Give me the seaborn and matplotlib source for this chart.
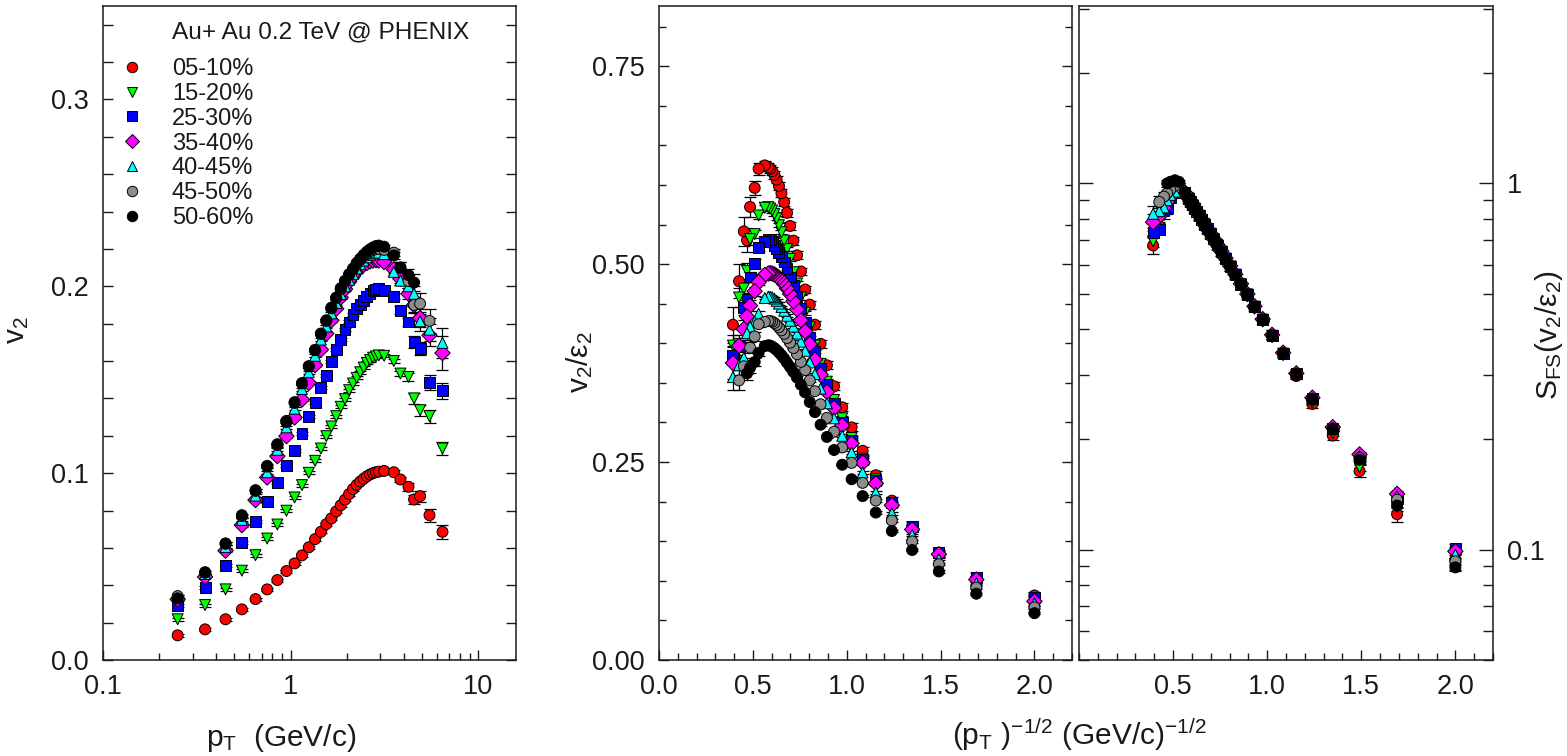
import numpy as np
import pandas as pd
import matplotlib
matplotlib.use("Agg")
import matplotlib.pyplot as plt
import seaborn as sns
from matplotlib.lines import Line2D
from matplotlib.ticker import MultipleLocator, LogLocator, FixedLocator, FuncFormatter, NullFormatter

sns.set_style("ticks")
plt.rcParams['font.family'] = ['Liberation Sans', 'DejaVu Sans']
plt.rcParams['mathtext.fontset'] = 'custom'
plt.rcParams['mathtext.rm'] = 'Liberation Sans'
plt.rcParams['mathtext.it'] = 'Liberation Sans'
plt.rcParams['mathtext.default'] = 'regular'

# ---------------- data ----------------
centralities = ['05-10%', '15-20%', '25-30%', '35-40%', '40-45%', '45-50%', '50-60%']
colors = ['#ff0000', '#00ff00', '#0000ff', '#ff00ff', '#00ffff', '#8c8c8c', '#000000']
markers = ['o', 'v', 's', 'D', '^', 'o', 'o']

pt = [0.25, 0.35, 0.45, 0.55, 0.65, 0.75, 0.85, 0.95, 1.05, 1.15, 1.25, 1.35, 1.45, 1.55,
      1.65, 1.75, 1.85, 1.95, 2.05, 2.15, 2.25, 2.35, 2.45, 2.55, 2.65, 2.75, 2.85, 2.95,
      3.15, 3.55, 3.85, 4.25, 4.55, 4.9, 5.5, 6.45]
nan = float('nan')

v2_0510 = [0.0132, 0.0164, 0.0218, 0.0271, 0.0326, 0.0378, 0.0428, 0.0476, 0.0517, 0.0560,
           0.0603, 0.0647, 0.0686, 0.0727, 0.0758, 0.0795, 0.0828, 0.0858, 0.0888, 0.0915,
           0.0937, 0.0955, 0.0970, 0.0983, 0.0993, 0.1000, 0.1005, 0.1008,
           0.1012, 0.1005, 0.0966, 0.0927, 0.0859, 0.0877, 0.0775, 0.0686]
v2_1520 = [0.0218, 0.0294, 0.0378, 0.0478, 0.0561, 0.0650, 0.0725, 0.0799, 0.0870, 0.0936,
           0.1002, 0.1066, 0.1132, 0.1198, 0.1250, 0.1305, 0.1355, 0.1396, 0.1444, 0.1480,
           0.1510, 0.1540, 0.1565, 0.1590, 0.1605, 0.1618, 0.1625, 0.1630,
           0.1628, 0.1600, 0.1533, 0.1515, 0.1400, 0.1337, 0.1305, 0.1132]
v2_2530 = [0.0294, 0.0389, 0.0508, 0.0630, 0.0743, 0.0847, 0.0948, 0.1039, 0.1123, 0.1212,
           0.1301, 0.1378, 0.1458, 0.1524, 0.1595, 0.1661, 0.1715, 0.1768, 0.1809, 0.1850,
           0.1880, 0.1905, 0.1925, 0.1945, 0.1960, 0.1975, 0.1985, 0.1988,
           0.1975, 0.1947, 0.1872, 0.1809, 0.1702, 0.1667, 0.1483, 0.1440]
v2_3540 = [0.0325, 0.0445, 0.0585, 0.0722, 0.0856, 0.0977, 0.1091, 0.1198, 0.1298, 0.1394,
           0.1483, 0.1578, 0.1661, 0.1747, 0.1818, 0.1880, 0.1940, 0.1985, 0.2025, 0.2055,
           0.2080, 0.2100, 0.2115, 0.2125, 0.2133, 0.2138, 0.2140, 0.2138,
           0.2130, 0.2090, 0.2040, 0.1960, 0.1900, 0.1830, 0.1738, 0.1643]
v2_4045 = [0.0340, 0.0460, 0.0605, 0.0750, 0.0880, 0.1005, 0.1125, 0.1245, 0.1345, 0.1450,
           0.1540, 0.1628, 0.1715, 0.1785, 0.1855, 0.1910, 0.1958, 0.2000, 0.2035, 0.2065,
           0.2095, 0.2118, 0.2138, 0.2155, 0.2168, 0.2176, 0.2180, 0.2180,
           0.2172, 0.2077, 0.2030, 0.2000, 0.1960, 0.1813, 0.1768, 0.1697]
v2_4550 = [0.0342, 0.0470, 0.0622, 0.0770, 0.0905, 0.1035, 0.1150, 0.1280, 0.1380, 0.1482,
           0.1572, 0.1660, 0.1745, 0.1815, 0.1882, 0.1935, 0.1985, 0.2025, 0.2060, 0.2090,
           0.2118, 0.2140, 0.2160, 0.2175, 0.2188, 0.2196, 0.2200, 0.2200,
           0.2195, 0.2180, 0.2100, 0.2028, 0.1900, 0.1907, 0.1815, nan]
v2_5060 = [0.0330, 0.0467, 0.0624, 0.0775, 0.0909, 0.1039, 0.1155, 0.1274, 0.1376, 0.1480,
           0.1572, 0.1658, 0.1747, 0.1818, 0.1886, 0.1940, 0.1990, 0.2030, 0.2065, 0.2095,
           0.2125, 0.2148, 0.2168, 0.2185, 0.2198, 0.2208, 0.2215, 0.2218,
           0.2212, 0.2165, 0.2100, 0.2060, 0.2020, nan, nan, nan]

# eccentricity per centrality (middle panel = v2 / eps2)
eps2 = [0.162, 0.285, 0.374, 0.438, 0.475, 0.514, 0.558]

# scaled values S_FS(v2/eps2) (right panel)
sfs_0510 = [0.094, 0.125, 0.164, 0.205, 0.250, 0.298, 0.342, 0.383, 0.424, 0.460, 0.497, 0.530,
            0.563, 0.593, 0.623, 0.651, 0.678, 0.704, 0.728, 0.750, 0.773, 0.795, 0.816, 0.835,
            0.854, 0.872, 0.890, 0.908, 0.940, 0.990, 0.954, 0.915, 0.848, 0.866, 0.765, 0.677]
sfs_1520 = [0.096, 0.131, 0.168, 0.208, 0.252, 0.300, 0.343, 0.384, 0.425, 0.461, 0.498, 0.531,
            0.564, 0.594, 0.624, 0.652, 0.679, 0.705, 0.729, 0.751, 0.774, 0.796, 0.817, 0.836,
            0.855, 0.873, 0.891, 0.910, 0.942, 0.980, 0.940, 0.930, 0.860, 0.820, 0.800, 0.695]
sfs_2530 = [0.101, 0.138, 0.178, 0.214, 0.258, 0.302, 0.344, 0.385, 0.425, 0.461, 0.498, 0.531,
            0.564, 0.594, 0.624, 0.652, 0.679, 0.705, 0.729, 0.751, 0.774, 0.796, 0.817, 0.836,
            0.855, 0.873, 0.891, 0.910, 0.942, 0.982, 0.944, 0.913, 0.859, 0.841, 0.749, 0.736]
sfs_3540 = [0.099, 0.142, 0.182, 0.216, 0.260, 0.303, 0.345, 0.386, 0.426, 0.462, 0.499, 0.532,
            0.565, 0.595, 0.625, 0.653, 0.680, 0.706, 0.730, 0.752, 0.775, 0.797, 0.818, 0.837,
            0.856, 0.874, 0.892, 0.911, 0.943, 0.978, 0.955, 0.917, 0.890, 0.857, 0.813, 0.784]
sfs_4045 = [0.097, 0.140, 0.180, 0.215, 0.259, 0.303, 0.345, 0.386, 0.426, 0.462, 0.499, 0.532,
            0.565, 0.595, 0.625, 0.653, 0.680, 0.706, 0.730, 0.752, 0.775, 0.797, 0.818, 0.837,
            0.856, 0.874, 0.892, 0.911, 0.943, 0.975, 0.950, 0.930, 0.900, 0.860, 0.840, 0.826]
sfs_4550 = [0.093, 0.137, 0.178, 0.214, 0.258, 0.302, 0.344, 0.385, 0.425, 0.461, 0.498, 0.531,
            0.564, 0.594, 0.624, 0.652, 0.679, 0.705, 0.729, 0.751, 0.774, 0.796, 0.817, 0.836,
            0.855, 0.873, 0.891, 0.910, 0.942, 1.000, 0.985, 0.960, 0.940, 0.920, 0.890, nan]
sfs_5060 = [0.0895, 0.132, 0.176, 0.213, 0.257, 0.301, 0.343, 0.384, 0.424, 0.460, 0.497, 0.530,
            0.563, 0.593, 0.623, 0.651, 0.678, 0.704, 0.728, 0.750, 0.773, 0.795, 0.816, 0.835,
            0.854, 0.872, 0.890, 0.909, 0.945, 1.010, 1.020, 1.010, 1.000, nan, nan, nan]

# v2 uncertainties: common value at low pT, individual values for the last 7 pT points
err_low = 0.0008
err_hi_0510 = [0.0012, 0.0015, 0.0020, 0.0025, 0.0030, 0.0035, 0.0037]
err_hi_1520 = [0.0012, 0.0015, 0.0020, 0.0028, 0.0030, 0.0035, 0.0037]
err_hi_2530 = [0.0015, 0.0020, 0.0022, 0.0030, 0.0035, 0.0040, 0.0042]
err_hi_3540 = [0.0018, 0.0025, 0.0030, 0.0040, 0.0050, 0.0060, 0.0090]
err_hi_4045 = [0.0018, 0.0025, 0.0030, 0.0040, 0.0050, 0.0060, 0.0080]
err_hi_4550 = [0.0020, 0.0030, 0.0035, 0.0045, 0.0055, 0.0065, nan]
err_hi_5060 = [0.0020, 0.0030, 0.0035, 0.0045, nan, nan, nan]

v2_all = [v2_0510, v2_1520, v2_2530, v2_3540, v2_4045, v2_4550, v2_5060]
sfs_all = [sfs_0510, sfs_1520, sfs_2530, sfs_3540, sfs_4045, sfs_4550, sfs_5060]
err_all = [err_hi_0510, err_hi_1520, err_hi_2530, err_hi_3540, err_hi_4045, err_hi_4550, err_hi_5060]

frames = []
for c, v2, sfs, eh, e in zip(centralities, v2_all, sfs_all, err_all, eps2):
    v2 = np.array(v2)
    err = np.array([err_low] * (len(pt) - len(eh)) + list(eh))
    d = pd.DataFrame({'cent': c, 'pt': pt, 'v2': v2, 'v2err': err})
    d['x'] = d['pt'] ** -0.5
    d['ratio'] = d['v2'] / e
    d['ratioerr'] = d['v2err'] / e
    d['sfs'] = np.array(sfs)
    d['sfserr'] = d['sfs'] * d['v2err'] / d['v2']
    frames.append(d)
df = pd.concat(frames, ignore_index=True).dropna(subset=['v2'])

palette = dict(zip(centralities, colors))
mk = dict(zip(centralities, markers))

# ---------------- figure ----------------
W, H = 1567, 756
fig = plt.figure(figsize=(W / 100, H / 100), dpi=100)

def px_axes(x0, x1, y0, y1):
    return fig.add_axes([x0 / W, 1 - y1 / H, (x1 - x0) / W, (y1 - y0) / H])

ax1 = px_axes(103, 516, 6, 660)
ax2 = px_axes(659, 1072, 6, 660)
ax3 = px_axes(1079, 1493, 6, 660)

FS_TICK = 19.5
FS_LEG = 17
FS_LAB = 21.5

def draw(ax, xcol, ycol, ecol):
    for c in centralities:
        d = df[df['cent'] == c]
        ax.errorbar(d[xcol], d[ycol], yerr=d[ecol], fmt='none', ecolor='black',
                    elinewidth=0.9, capsize=4, capthick=0.9, zorder=0.8)
    sns.scatterplot(data=df, x=xcol, y=ycol, hue='cent', style='cent',
                    hue_order=centralities, style_order=centralities,
                    palette=palette, markers=mk, s=62, edgecolor='black',
                    linewidth=0.7, legend=False, ax=ax, zorder=2)

draw(ax1, 'pt', 'v2', 'v2err')
draw(ax2, 'x', 'ratio', 'ratioerr')
draw(ax3, 'x', 'sfs', 'sfserr')

for ax in (ax1, ax2, ax3):
    for s in ax.spines.values():
        s.set_linewidth(1.1)
        s.set_color('#1a1a1a')
    ax.tick_params(which='both', direction='in', top=False, bottom=True, left=True, right=True,
                   labelsize=FS_TICK, pad=10, width=1.0, color='#1a1a1a', labelcolor='#1a1a1a')
    ax.tick_params(which='major', length=7.5)
    ax.tick_params(which='minor', length=5)
    ax.set_xlabel('')
    ax.set_ylabel('')

# left panel
ax1.set_xscale('log')
ax1.set_xlim(0.1, 15.9)
ax1.set_ylim(0, 0.35)
ax1.xaxis.set_major_locator(FixedLocator([0.1, 1, 10]))
ax1.xaxis.set_major_formatter(FuncFormatter(lambda v, p: {0.1: '0.1', 1: '1', 10: '10'}.get(round(v, 3), '')))
ax1.xaxis.set_minor_locator(LogLocator(base=10, subs=np.arange(2, 10)))
ax1.xaxis.set_minor_formatter(NullFormatter())
ax1.yaxis.set_major_locator(MultipleLocator(0.1))
ax1.yaxis.set_minor_locator(MultipleLocator(0.02))
ax1.yaxis.set_major_formatter(FuncFormatter(lambda v, p: f'{v:.1f}'))
ax1.tick_params(axis='y', which='minor', length=7)
ax1.set_xlabel(r'p$_T$  (GeV/c)', fontsize=FS_LAB, color='#1a1a1a')
ax1.xaxis.set_label_coords(0.43, -0.095)
ax1.set_ylabel(r'v$_2$', fontsize=FS_LAB, color='#1a1a1a')
ax1.yaxis.set_label_coords(-0.175, 0.505)

# legend
handles = [Line2D([], [], linestyle='none', marker=m, markerfacecolor=c, markeredgecolor='black',
                  markeredgewidth=0.7, markersize=7.5) for m, c in zip(markers, colors)]
ax1.legend(handles, centralities, loc='upper left', bbox_to_anchor=((120 - 103) / 413, (660 - 58) / 654),
           frameon=False, fontsize=FS_LEG, handlelength=1.0, handletextpad=1.2,
           labelspacing=0.12, borderpad=0, borderaxespad=0, labelcolor='#1a1a1a')
ax1.text((172 - 103) / 413, (660 - 32) / 654, 'Au+ Au 0.2 TeV @ PHENIX', transform=ax1.transAxes,
         fontsize=17.6, ha='left', va='center', color='#1a1a1a')

# middle panel
ax2.set_xlim(0, 2.2)
ax2.set_ylim(0, 0.826)
ax2.xaxis.set_major_locator(MultipleLocator(0.5))
ax2.xaxis.set_minor_locator(MultipleLocator(0.1))
ax2.xaxis.set_major_formatter(FuncFormatter(lambda v, p: f'{v:.1f}'))
ax2.yaxis.set_major_locator(MultipleLocator(0.25))
ax2.yaxis.set_minor_locator(MultipleLocator(0.05))
ax2.yaxis.set_major_formatter(FuncFormatter(lambda v, p: f'{v:.2f}'))
ax2.set_ylabel('v$_2$/ε$_2$', fontsize=FS_LAB, color='#1a1a1a')
ax2.yaxis.set_label_coords(-0.155, 0.455)

# right panel
ax3.set_xlim(0, 2.2)
ax3.set_yscale('log')
ax3.set_ylim(0.05, 3.05)
ax3.xaxis.set_major_locator(FixedLocator([0.5, 1.0, 1.5, 2.0]))
ax3.xaxis.set_minor_locator(MultipleLocator(0.1))
ax3.xaxis.set_major_formatter(FuncFormatter(lambda v, p: f'{v:.1f}'))
ax3.yaxis.set_major_locator(FixedLocator([0.1, 1]))
ax3.yaxis.set_major_formatter(FuncFormatter(lambda v, p: '1' if abs(v - 1) < 1e-6 else '0.1'))
ax3.yaxis.set_minor_locator(LogLocator(base=10, subs=np.arange(2, 10)))
ax3.yaxis.set_minor_formatter(NullFormatter())
ax3.tick_params(axis='y', which='both', labelleft=False, labelright=True)
ax3.tick_params(axis='y', which='major', length=10)
ax3.tick_params(axis='y', which='minor', length=7)
ax3.yaxis.set_label_position('right')
ax3.set_ylabel('S$_{FS}$(v$_2$/ε$_2$)', fontsize=FS_LAB, rotation=90, color='#1a1a1a')
ax3.yaxis.set_label_coords(1.097, 0.497)

fig.text(1079 / W, 1 - 735 / H, '(p$_T$ )$^{-1/2}$ (GeV/c)$^{-1/2}$', fontsize=FS_LAB,
         ha='center', va='center', color='#1a1a1a')

fig.savefig('out.png', dpi=100)
